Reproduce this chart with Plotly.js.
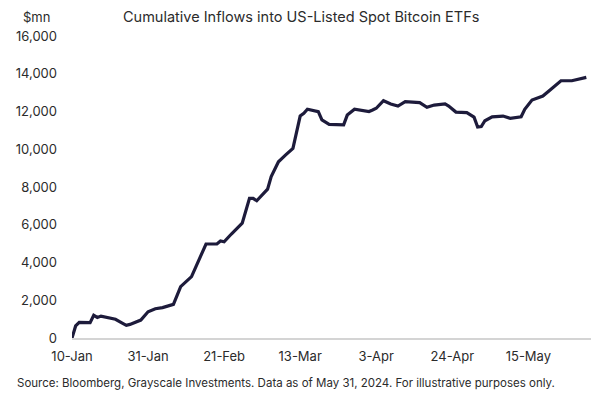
<!DOCTYPE html>
<html>
<head>
<meta charset="utf-8">
<script src="https://cdn.plot.ly/plotly-3.0.1.min.js"></script>
<style>
html,body{margin:0;padding:0;background:#fff;}
#chart{width:600px;height:398px;}
</style>
</head>
<body>
<div id="chart"></div>
<script>
const dates = [
"2024-01-10","2024-01-11","2024-01-12","2024-01-15","2024-01-16","2024-01-17","2024-01-18","2024-01-20",
"2024-01-22","2024-01-24","2024-01-25","2024-01-26","2024-01-29","2024-01-31","2024-02-02","2024-02-04",
"2024-02-06","2024-02-07","2024-02-09","2024-02-12","2024-02-16","2024-02-19","2024-02-20","2024-02-21",
"2024-02-23","2024-02-26","2024-02-28","2024-02-29","2024-03-01","2024-03-04","2024-03-05","2024-03-07",
"2024-03-09","2024-03-11","2024-03-13","2024-03-14","2024-03-15","2024-03-18","2024-03-19","2024-03-21",
"2024-03-25","2024-03-26","2024-03-28","2024-03-29","2024-04-01","2024-04-02","2024-04-03","2024-04-05",
"2024-04-07","2024-04-09","2024-04-11","2024-04-15","2024-04-17","2024-04-19","2024-04-22","2024-04-23",
"2024-04-25","2024-04-28","2024-04-30","2024-05-01","2024-05-02","2024-05-03","2024-05-05","2024-05-08",
"2024-05-10","2024-05-13","2024-05-14","2024-05-16","2024-05-19","2024-05-21","2024-05-24","2024-05-27",
"2024-05-31"
];
const inflows = [
0,640,830,810,1200,1090,1160,1090,
990,780,670,720,950,1390,1550,1610,
1700,1780,2720,3250,4980,4980,5140,5100,
5510,6080,7400,7400,7270,7890,8550,9340,
9700,10050,11760,11900,12120,11990,11550,11320,
11290,11810,12120,12090,12000,12080,12170,12570,
12400,12290,12520,12470,12220,12340,12400,12290,
11970,11940,11700,11180,11200,11510,11720,11760,
11640,11720,12120,12610,12820,13140,13630,13630,
13810
];
const tickDates = ["2024-01-10","2024-01-31","2024-02-21","2024-03-13","2024-04-03","2024-04-24","2024-05-15"];
const tickLabels = ["10-Jan","31-Jan","21-Feb","13-Mar","3-Apr","24-Apr","15-May"];
const yTicks = [0,2000,4000,6000,8000,10000,12000,14000,16000];

const titleText = "Cumulative Inflows into US-Listed Spot Bitcoin ETFs";
const unitText = "$mn";
const sourceText = "Source: Bloomberg, Grayscale Investments. Data as of May 31, 2024. For illustrative purposes only.";

const FONT = "Inter, 'Open Sans', sans-serif";

const trace = {
  x: dates, y: inflows, type: "scatter", mode: "lines",
  line: {color: "#1d1b3b", width: 3.2, shape: "linear"},
  hoverinfo: "skip"
};

const layout = {
  width: 600, height: 398,
  margin: {l: 72, r: 9, t: 36, b: 60, pad: 0},
  paper_bgcolor: "#fff", plot_bgcolor: "#fff",
  showlegend: false,
  font: {family: FONT, size: 13, color: "#2b2b2b"},
  title: {text: titleText, x: 0.502, xref: "container", xanchor: "center",
          y: 0.957, yref: "container", yanchor: "middle",
          font: {family: FONT, size: 14.5, color: "#2b2b2b"}},
  xaxis: {
    type: "date",
    range: ["2024-01-10", "2024-06-01 07:00"],
    tickmode: "array", tickvals: tickDates, ticktext: tickLabels,
    showgrid: false, zeroline: false,
    showline: true, linecolor: "#d4d4d4", linewidth: 1.5,
    ticks: "", ticklabelstandoff: 6,
    tickfont: {family: FONT, size: 13, color: "#2b2b2b"}
  },
  yaxis: {
    range: [0, 16000],
    tickmode: "array", tickvals: yTicks, tickformat: ",d",
    showgrid: false, zeroline: false, showline: false,
    ticks: "", ticklabelstandoff: 14,
    tickfont: {family: FONT, size: 13, color: "#2b2b2b"}
  },
  annotations: [
    {text: unitText, xref: "paper", yref: "paper", x: -0.069, y: 1.063,
     xanchor: "center", yanchor: "middle", showarrow: false,
     font: {family: FONT, size: 13, color: "#2b2b2b"}},
    {text: sourceText, xref: "paper", yref: "paper", x: -0.11, y: -0.149,
     xanchor: "left", yanchor: "middle", showarrow: false,
     font: {family: FONT, size: 11.5, color: "#2b2b2b"}}
  ]
};

Plotly.newPlot("chart", [trace], layout, {displayModeBar: false, staticPlot: true});
</script>
</body>
</html>
